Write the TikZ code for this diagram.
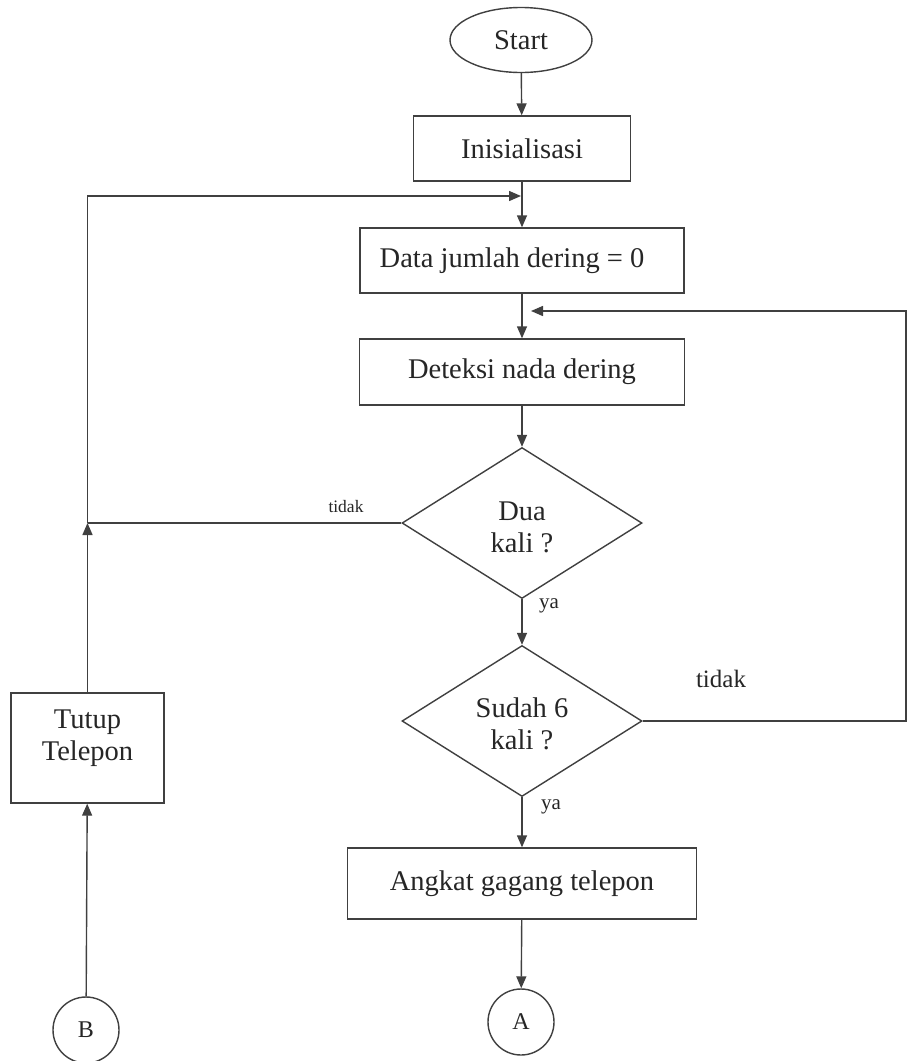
\documentclass[tikz,border=0pt]{standalone}
\usepackage{fontspec}
\setmainfont{Liberation Serif}
\usetikzlibrary{shapes.geometric,arrows.meta}

\definecolor{linegray}{gray}{0.25}
\definecolor{inkgray}{gray}{0.15}

\tikzset{
  base/.style={draw=linegray, line width=1.4pt, text=inkgray,
    font=\fontsize{28.5}{32}\selectfont, inner sep=0pt, align=center},
  terminal/.style={base, ellipse, minimum width=142pt, minimum height=65pt},
  process/.style={base, rectangle, minimum height=65pt},
  decision/.style={base, diamond, minimum width=240pt, minimum height=151pt},
  connector/.style={base, circle, minimum size=66pt, font=\fontsize{24}{28}\selectfont},
  caption/.style={text=inkgray, inner sep=0pt, align=center,
    font=\fontsize{28.5}{32}\selectfont},
  flow/.style={draw=linegray, line width=1.4pt},
  arrow/.style={flow, -{Triangle[length=12pt,width=10pt]}},
  small/.style={text=inkgray, inner sep=0pt}
}

\begin{document}
\begin{tikzpicture}[x=1pt,y=-1pt]
\path[use as bounding box, fill=white] (0,0) rectangle (909,1061);

% main column
\node[terminal] (start) at (521,40) {Start};
\node[process, minimum width=217pt] (init) at (522,148.5) {Inisialisasi};
\node[process, minimum width=324pt] (data) at (522,260.5) {Data jumlah dering = 0\hspace*{20pt}};
\node[process, minimum width=325pt, minimum height=66pt] (detect) at (522,372) {Deteksi nada dering};
\node[decision] (dua) at (522,523) {};
\node[caption] (duatext) at (522,527) {Dua\\kali ?};
\node[decision] (sudah) at (522,721) {};
\node[caption] (sudahtext) at (522,724) {Sudah 6\\kali ?};
\node[process, minimum width=349pt, minimum height=71pt] (angkat) at (522,883.5) {Angkat gagang telepon};
\node[connector] (conA) at (521,1022) {A};

% left column
\node[process, minimum width=153pt, minimum height=110pt] (tutup) at (87.5,748) {};
\node[caption] (tutuptext) at (87.5,738) {Tutup\\Telepon};
\node[connector] (conB) at (86,1030) {B};

% junction points of the two loops
\coordinate (joinL) at (87.5,523);
\coordinate (cornerL) at (87.5,196);
\coordinate (mergeTop) at (521,196);
\coordinate (cornerRB) at (906,721);
\coordinate (cornerRT) at (906,311);
\coordinate (mergeMid) at (531,311);

% straight flow
\draw[arrow] (start) -- (init);
\draw[arrow] (init) -- (data);
\draw[arrow] (data) -- (detect);
\draw[arrow] (detect) -- (dua);
\draw[arrow] (dua) -- (sudah);
\draw[arrow] (sudah) -- (angkat);
\draw[arrow] (angkat) -- (conA);
\draw[arrow] (conB) -- (tutup);

% "tidak" branch of the first decision and the hang-up loop
\draw[flow] (dua.west) -- (joinL);
\draw[arrow] (tutup.north) -- (joinL);
\draw[arrow] (joinL) -- (cornerL) -- (mergeTop);

% "tidak" branch of the second decision
\draw[arrow] (sudah.east) -- (cornerRB) -- (cornerRT) -- (mergeMid);

% branch labels
\node[small, font=\fontsize{17.5}{20}\selectfont] (lblNo1) at (346,507) {tidak};
\node[small, font=\fontsize{21}{24}\selectfont] (lblYes1) at (549,606) {ya};
\node[small, font=\fontsize{25}{28}\selectfont] (lblNo2) at (721,679) {tidak};
\node[small, font=\fontsize{21}{24}\selectfont] (lblYes2) at (551,807) {ya};
\end{tikzpicture}
\end{document}
